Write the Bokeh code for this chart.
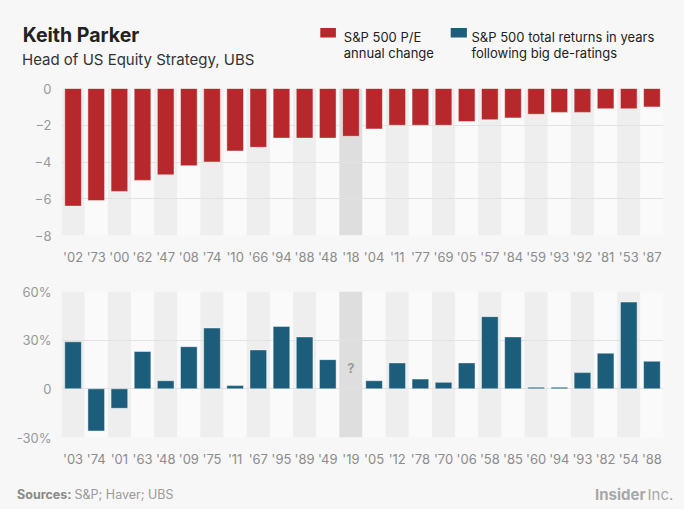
from bokeh.plotting import figure
from bokeh.layouts import column
from bokeh.models import Range1d, FactorRange, FixedTicker
from bokeh.core.properties import value
from bokeh.embed import file_html
from bokeh.resources import INLINE

# ---------------- data ----------------
pe_years = ["'02", "'73", "'00", "'62", "'47", "'08", "'74", "'10", "'66", "'94", "'88", "'48", "'18",
            "'04", "'11", "'77", "'69", "'05", "'57", "'84", "'59", "'93", "'92", "'81", "'53", "'87"]
pe_change = [-6.4, -6.1, -5.6, -5.0, -4.7, -4.2, -4.0, -3.4, -3.2, -2.7, -2.7, -2.7, -2.6,
             -2.2, -2.0, -2.0, -2.0, -1.8, -1.7, -1.6, -1.4, -1.3, -1.3, -1.1, -1.1, -1.0]
pe_ticks = [0, -2, -4, -6, -8]

ret_years = ["'03", "'74", "'01", "'63", "'48", "'09", "'75", "'11", "'67", "'95", "'89", "'49", "'19",
             "'05", "'12", "'78", "'70", "'06", "'58", "'85", "'60", "'94", "'93", "'82", "'54", "'88"]
returns = [29, -26, -12, 23, 5, 26, 37.5, 2, 24, 38.5, 32, 18, float("nan"),
           5, 16, 6, 4, 16, 44.5, 32, 1, 1, 10, 22, 53.5, 17]
ret_ticks = [60, 30, 0, -30]
ret_tick_labels = {60: "60%", 30: "30%", 0: "0", -30: "-30%"}
unknown_label = "?"
unknown_value = 13

highlight_index = 12  # '18 / '19 (latest year)

title = "Keith Parker"
subtitle = "Head of US Equity Strategy, UBS"
legend_pe = ["S&P 500 P/E", "annual change"]
legend_ret = ["S&P 500 total returns in years", "following big de-ratings"]

# ---------------- styles / geometry ----------------
W = 684
H_HEAD, H_TOP, H_BOT, H_FOOT = 80, 199, 196, 34
BL, BR = 61, 21

BG = "#f7f7f7"
RED = "#b7282c"
BLUE = "#1b5d7a"
BAND_DARK = "#eeeeee"
BAND_LIGHT = "#fafafa"
BAND_HI = "#dedede"
FONT_NAME = "Inter"
FONT = value(FONT_NAME)

band_colors = [BAND_HI if i == highlight_index else (BAND_DARK if i % 2 == 0 else BAND_LIGHT)
               for i in range(len(pe_years))]


def no_align(p):
    try:
        p.frame_align = False
    except Exception:
        pass


def blank(h):
    p = figure(width=W, height=h, x_range=Range1d(0, W), y_range=Range1d(h, 0),
               output_backend="svg", toolbar_location=None, x_axis_type=None, y_axis_type=None,
               min_border=0, background_fill_color=BG, border_fill_color=BG,
               outline_line_color=None)
    p.grid.visible = False
    no_align(p)
    return p


def style_chart(p, ticks, overrides=None):
    p.xgrid.visible = False
    for ax in (p.xaxis[0], p.yaxis[0]):
        ax.axis_line_color = None
        ax.major_tick_line_color = None
        ax.minor_tick_line_color = None
        ax.major_tick_out = 0
        ax.major_tick_in = 0
        ax.minor_tick_out = 0
        ax.major_label_text_font = FONT_NAME
        ax.major_label_text_font_size = "13px"
    p.xaxis[0].major_label_standoff = 13
    p.xaxis[0].major_label_text_color = "#8c8c8c"
    p.yaxis[0].major_label_standoff = 10
    p.yaxis[0].major_label_text_color = "#999999"
    p.yaxis[0].ticker = FixedTicker(ticks=ticks)
    if overrides:
        p.yaxis[0].major_label_overrides = overrides
    p.ygrid.ticker = FixedTicker(ticks=ticks)
    p.ygrid.grid_line_color = "#e2e2e2"
    p.ygrid.grid_line_width = 1
    p.ygrid.level = "underlay"


def txt(p, x, y, s, size, color, bold=False, baseline="alphabetic", align="left"):
    p.text(x=[x], y=[y], text=[s], text_font=FONT, text_font_size=size, text_color=color,
           text_font_style="bold" if bold else "normal", text_baseline=baseline,
           text_align=align)


# ---------------- header ----------------
head = blank(H_HEAD)
txt(head, 22.2, 34.9, title, "19.5px", "#222222", bold=True)
txt(head, 21.5, 59.1, subtitle, "15px", "#333333")
head.quad(left=[319.8], right=[335.4], top=[27.4], bottom=[37.1], fill_color=RED, line_color=None)
head.quad(left=[450.2], right=[466.4], top=[27.4], bottom=[37.1], fill_color=BLUE, line_color=None)
txt(head, 343.3, 36.6, legend_pe[0], "13px", "#222222")
txt(head, 343.3, 52.6, legend_pe[1], "13px", "#222222")
txt(head, 471.0, 36.6, legend_ret[0], "13px", "#222222")
txt(head, 471.0, 52.6, legend_ret[1], "13px", "#222222")

# ---------------- top chart ----------------
p1 = figure(width=W, height=H_TOP, x_range=FactorRange(*pe_years),
            y_range=Range1d(pe_ticks[-1], pe_ticks[0]),
            output_backend="svg", toolbar_location=None,
            min_border_left=BL, min_border_right=BR, min_border_top=8, min_border_bottom=44,
            background_fill_color=BG, border_fill_color=BG, outline_line_color=None)
style_chart(p1, pe_ticks)
p1.vbar(x=pe_years, top=pe_ticks[0], bottom=pe_ticks[-1], width=1, fill_color=band_colors,
        line_color=None, level="image")
p1.vbar(x=pe_years, top=0, bottom=pe_change, width=0.72, fill_color=RED,
        line_color="#ffffff", line_alpha=0.45, line_width=1)

# ---------------- bottom chart ----------------
p2 = figure(width=W, height=H_BOT, x_range=FactorRange(*ret_years),
            y_range=Range1d(ret_ticks[-1], ret_ticks[0]),
            output_backend="svg", toolbar_location=None,
            min_border_left=BL, min_border_right=BR, min_border_top=12, min_border_bottom=38,
            background_fill_color=BG, border_fill_color=BG, outline_line_color=None)
style_chart(p2, ret_ticks, ret_tick_labels)
p2.vbar(x=ret_years, top=ret_ticks[0], bottom=ret_ticks[-1], width=1, fill_color=band_colors,
        line_color=None, level="image")
p2.vbar(x=ret_years, top=returns, bottom=0, width=0.72, fill_color=BLUE,
        line_color="#ffffff", line_alpha=0.45, line_width=1)
p2.text(x=[ret_years[highlight_index]], y=[unknown_value], text=[unknown_label], text_font=FONT,
        text_font_size="13px", text_font_style="bold", text_color="#9a9a9a",
        text_align="center", text_baseline="middle")

# ---------------- footer ----------------
foot = blank(H_FOOT)
txt(foot, 16.6, 18.5, "Sources:", "12.5px", "#8a8a8a", bold=True, baseline="middle")
txt(foot, 74.0, 18.5, "S&P; Haver; UBS", "12.5px", "#9a9a9a", baseline="middle")
txt(foot, 645.0, 18.5, "Insider", "15px", "#a8a8a8", bold=True, baseline="middle", align="right")
txt(foot, 647.0, 18.5, "Inc.", "15px", "#a8a8a8", baseline="middle")

layout = column(head, p1, p2, foot, spacing=0)
layout.styles = {"background-color": BG}

open("out.html", "w").write(file_html(layout, INLINE))
